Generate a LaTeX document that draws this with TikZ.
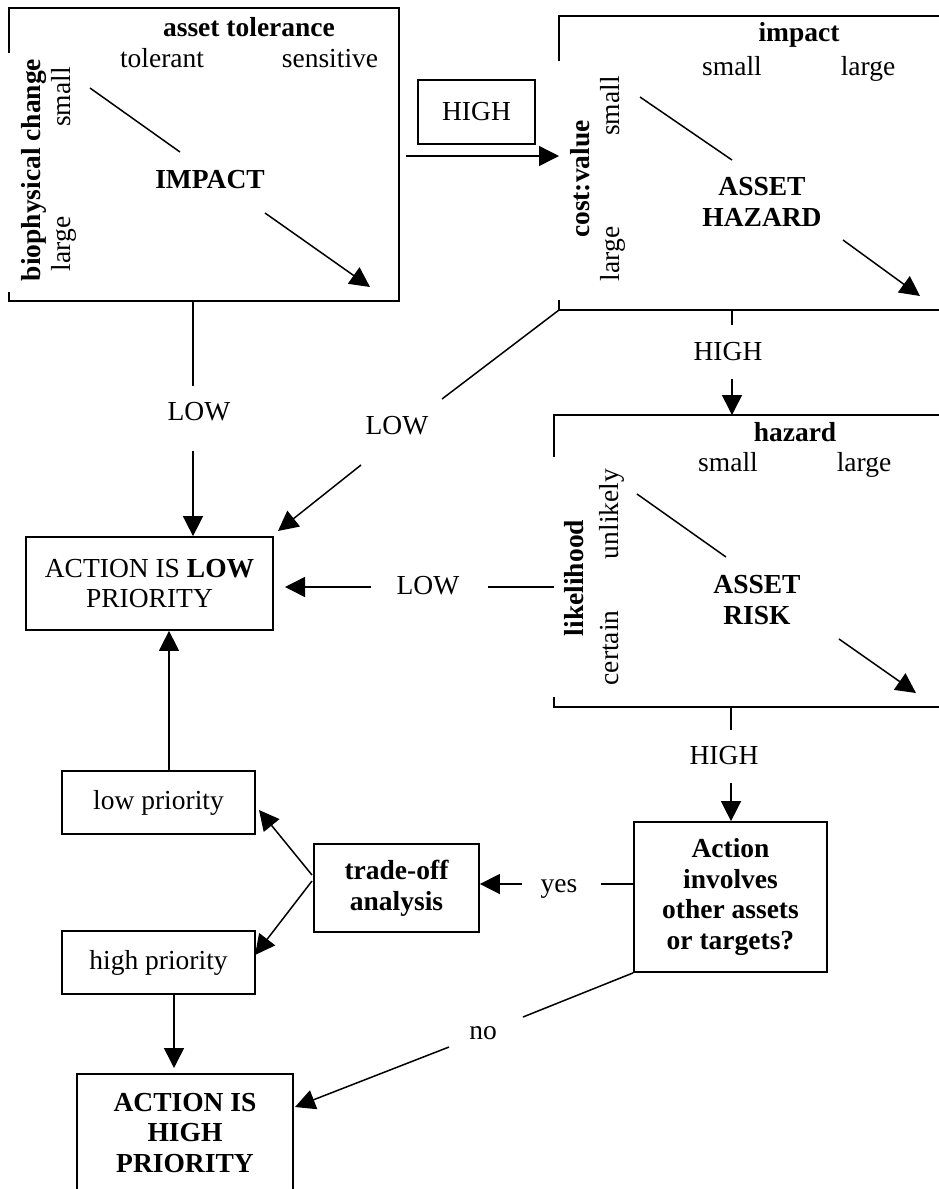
\documentclass[tikz,border=0pt]{standalone}
\usepackage{fontspec}
\setmainfont{Liberation Serif}
\usetikzlibrary{arrows.meta}

\tikzset{
	frame/.style={line width=0.7pt},
	conn/.style={line width=0.6pt},
	arr/.style={conn,-{Triangle[length=8pt,width=8pt]}},
	box/.style={draw,line width=0.7pt,align=center,inner sep=0pt},
	strong/.style={font=\bfseries},
	word/.style={text height=1.6ex,text depth=0.3ex},
	side/.style={word,rotate=90,inner sep=0pt},
}

\begin{document}
\fontsize{11}{12.3}\selectfont
\begin{tikzpicture}[x=0.4pt,y=-0.4pt]

	\useasboundingbox (0,0) rectangle (939,1189);
	\clip (0,0) rectangle (939,1189);
	\fill[white] (0,0) rectangle (939,1189);

	% impact grid
	\coordinate (a1) at (9,53);
	\coordinate (a2) at (9,8);
	\coordinate (a3) at (399,8);
	\coordinate (a4) at (399,301);
	\coordinate (a5) at (9,301);
	\coordinate (a6) at (9,292);
	\draw[frame] (a1) -- (a2) -- (a3) -- (a4) -- (a5) -- (a6);
	\node[strong] (tol) at (249,27) {asset tolerance};
	\node[word] (tolt) at (162,59) {tolerant};
	\node[word] (tols) at (330,59) {sensitive};
	\node[side,strong] (bio) at (32,170) {biophysical change};
	\node[side] (bios) at (62,97) {small};
	\node[side] (biol) at (62,244) {large};
	\node[strong] (imp) at (210,180) {IMPACT};
	\coordinate (d1) at (90,88);
	\coordinate (d2) at (180,152);
	\coordinate (d3) at (265,213);
	\coordinate (d4) at (370,287);
	\draw[conn] (d1) -- (d2);
	\draw[arr] (d3) -- (d4);

	% hazard grid
	\coordinate (b1) at (559,61);
	\coordinate (b2) at (559,16);
	\coordinate (b3) at (960,16);
	\coordinate (b4) at (960,310);
	\coordinate (b5) at (559,310);
	\coordinate (b6) at (559,300);
	\draw[frame] (b1) -- (b2) -- (b3) -- (b4) -- (b5) -- (b6);
	\node[strong] (impt) at (799,35) {impact};
	\node[word] (imps) at (732,67) {small};
	\node[word] (impl) at (868,67) {large};
	\node[side,strong] (cost) at (581,179) {cost:value};
	\node[side] (costs) at (611,106) {small};
	\node[side] (costl) at (611,254) {large};
	\node[strong,align=center] (haz) at (762,202) {ASSET\\HAZARD};
	\coordinate (e1) at (640,97);
	\coordinate (e2) at (732,160);
	\coordinate (e3) at (843,240);
	\coordinate (e4) at (920,296);
	\draw[conn] (e1) -- (e2);
	\draw[arr] (e3) -- (e4);

	% risk grid
	\coordinate (c1) at (554,457);
	\coordinate (c2) at (554,415);
	\coordinate (c3) at (960,415);
	\coordinate (c4) at (960,707);
	\coordinate (c5) at (554,707);
	\coordinate (c6) at (554,697);
	\draw[frame] (c1) -- (c2) -- (c3) -- (c4) -- (c5) -- (c6);
	\node[strong] (hazt) at (795,432) {hazard};
	\node[word] (hazs) at (728,463) {small};
	\node[word] (hazl) at (864,463) {large};
	\node[side,strong] (like) at (575,578) {likelihood};
	\node[side] (likeu) at (610,514) {unlikely};
	\node[side] (likec) at (610,648) {certain};
	\node[strong,align=center] (risk) at (757,600) {ASSET\\RISK};
	\coordinate (f1) at (637,494);
	\coordinate (f2) at (726,557);
	\coordinate (f3) at (839,639);
	\coordinate (f4) at (916,693);
	\draw[conn] (f1) -- (f2);
	\draw[arr] (f3) -- (f4);

	% boxes
	\node[box,minimum width=98.8pt,minimum height=37.2pt] (lowbox) at (149.5,583.5) {ACTION IS \textbf{LOW}\\PRIORITY};
	\node[box,minimum width=46.8pt,minimum height=25.6pt] (hi) at (476.5,112) {HIGH};
	\node[box,minimum width=77.2pt,minimum height=25.2pt] (lowpri) at (158.5,802.5) {low priority};
	\node[box,minimum width=77.2pt,minimum height=25.2pt] (highpri) at (158.5,962.5) {high priority};
	\node[box,strong,minimum width=66pt,minimum height=35.2pt] (trade) at (396.5,888) {trade-off\\analysis};
	\node[box,strong,minimum width=77.2pt,minimum height=60pt] (involves) at (730.5,897) {Action\\involves\\other assets\\or targets?};
	\node[box,strong,minimum width=86.4pt,minimum height=47.2pt] (highbox) at (185,1133) {ACTION IS\\HIGH\\PRIORITY};

	% LOW routes
	\coordinate (p1) at (193,386);
	\node (low1) at (199,412) {LOW};
	\coordinate (p2) at (193,451);
	\draw[conn] (a4 -| p1) -- (p1);
	\draw[arr] (p2) -- (lowbox.north -| p2);

	\coordinate (p3) at (442,399);
	\node (low2) at (397,426) {LOW};
	\coordinate (p4) at (361,465);
	\coordinate (p5) at (278,531);
	\draw[conn] (b5) -- (p3);
	\draw[arr] (p4) -- (p5);

	\coordinate (p6) at (488,587);
	\node (low3) at (428,586) {LOW};
	\coordinate (p7) at (371,587);
	\coordinate (p8) at (285,587);
	\draw[conn] (c1 |- p6) -- (p6);
	\draw[arr] (p7) -- (p8);

	% HIGH routes
	\coordinate (q1) at (406,156);
	\draw[arr] (q1) -- (b1 |- q1);

	\coordinate (q2) at (732,325);
	\node (high2) at (728,352) {HIGH};
	\coordinate (q3) at (732,379);
	\draw[conn] (b5 -| q2) -- (q2);
	\draw[arr] (q3) -- (c2 -| q3);

	\coordinate (q4) at (731,730);
	\node (high3) at (724,756) {HIGH};
	\coordinate (q5) at (731,783);
	\draw[conn] (c5 -| q4) -- (q4);
	\draw[arr] (q5) -- (involves.north -| q5);

	% decision
	\coordinate (r1) at (169,771);
	\draw[arr] (r1) -- (lowbox.south -| r1);
	\coordinate (r2) at (312,875);
	\coordinate (r3) at (259,810);
	\coordinate (r4) at (312,881);
	\coordinate (r5) at (255,955);
	\draw[arr] (r2) -- (r3);
	\draw[arr] (r4) -- (r5);
	\coordinate (r6) at (174,1068);
	\draw[arr] (highpri.south -| r6) -- (r6);

	\coordinate (s1) at (601,884);
	\node[word] (yes) at (559,884) {yes};
	\coordinate (s2) at (522,884);
	\draw[conn] (involves.west |- s1) -- (s1);
	\draw[arr] (s2) -- (trade.east |- s2);

	\coordinate (s3) at (523,1017);
	\node (no) at (483,1033) {no};
	\coordinate (s4) at (449,1047);
	\coordinate (s5) at (295,1107);
	\draw[conn] (involves.south west) -- (s3);
	\draw[arr] (s4) -- (s5);

\end{tikzpicture}
\end{document}
